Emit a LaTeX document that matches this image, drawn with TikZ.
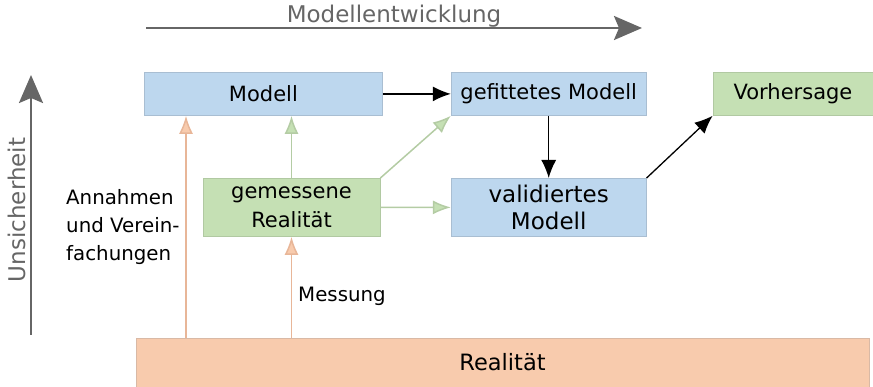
\documentclass[tikz,border=0pt]{standalone}
\usepackage{fontspec}
\setmainfont{DejaVu Sans}
\usetikzlibrary{arrows.meta,positioning}

\definecolor{modellblau}{HTML}{BDD7EE}
\definecolor{modellblaurand}{HTML}{A9BED2}
\definecolor{messgruen}{HTML}{C5E0B4}
\definecolor{messgruenrand}{HTML}{B1C9A2}
\definecolor{realorange}{HTML}{F8CBAD}
\definecolor{realorangerand}{HTML}{D9B9A5}
\definecolor{orangepfeil}{HTML}{E8B698}
\definecolor{gruenpfeil}{HTML}{B4CCA4}
\definecolor{achsengrau}{HTML}{666666}

\begin{document}
\begin{tikzpicture}[x=1pt,y=-1pt,>=Latex,
    box/.style={draw,line width=0.8pt,inner sep=0pt,align=center,font=\fontsize{21}{28.5}\selectfont},
    blaubox/.style={box,fill=modellblau,draw=modellblaurand},
    gruenbox/.style={box,fill=messgruen,draw=messgruenrand},
    schwarzpfeil/.style={->,line width=1.3pt,>={Latex[length=18pt,width=15pt]}},
    orangelinie/.style={->,line width=1.5pt,draw=orangepfeil,>={Latex[length=18pt,width=14pt,fill=realorange]}},
    gruenlinie/.style={->,line width=1.5pt,draw=gruenpfeil,>={Latex[length=18pt,width=14pt,fill=messgruen]}},
    achse/.style={->,line width=2.5pt,draw=achsengrau,>={Stealth[length=28pt,width=24pt,inset=5pt]}},
    achsentext/.style={text=achsengrau,inner sep=0pt,font=\fontsize{23}{27}\selectfont},
    beschriftung/.style={inner sep=0pt,align=left,font=\fontsize{19.8}{28}\selectfont}]

    \useasboundingbox (0,0) rectangle (873,387);

    % Kaesten
    \node[blaubox, anchor=north west, minimum width=238pt, minimum height=43pt] (modell) at (144,72) {Modell};
    \node[blaubox, minimum width=195pt, minimum height=43pt] (gefittet) [right=68pt of modell] {gefittetes Modell};
    \node[gruenbox, minimum width=160pt, minimum height=43pt] (vorhersage) [right=66pt of gefittet] {Vorhersage};
    \node[blaubox, minimum width=195pt, minimum height=58pt, font=\fontsize{23}{27.5}\selectfont] (validiert) [below=62.2pt of gefittet] {validiertes\\Modell};
    \node[gruenbox, minimum width=177pt, minimum height=58pt] (gemessen) at (291.5,207.4) {gemessene\\Realität};
    \node[box, fill=realorange, draw=realorangerand, minimum width=733pt, minimum height=49pt, font=\fontsize{22.5}{27}\selectfont] (realitaet) at (502.5,362.5) {Realität};

    % Achsen
    \coordinate (entw-start) at (146,28);
    \coordinate (entw-ende) at (642,28);
    \draw[achse] (entw-start) -- (entw-ende) node[achsentext, midway, anchor=base, yshift=5pt] (entwicklung) {Modellentwicklung};
    \coordinate (unsich-start) at (31,335);
    \coordinate (unsich-ende) at (31,75);
    \draw[achse] (unsich-start) -- (unsich-ende) node[achsentext, midway, rotate=90, anchor=base, xshift=-5pt, yshift=6pt] (unsicherheit) {Unsicherheit};

    % Beschriftungen
    \node[beschriftung, anchor=west] (annahmen) at (66,227) {Annahmen\\und Verein-\\fachungen};
    \node[beschriftung, anchor=base west] (messung) at (298,302) {Messung};

    % Pfeile
    \coordinate (annahme-oben) at ([xshift=42pt]modell.south west);
    \draw[orangelinie] (annahme-oben |- realitaet.north) -- (annahme-oben);
    \draw[orangelinie] (realitaet.north -| gemessen.south) -- (gemessen.south);
    \draw[gruenlinie] (gemessen.north) -- (modell.south -| gemessen.north);
    \draw[gruenlinie] (gemessen.north east) -- (gefittet.south west);
    \draw[gruenlinie] (gemessen.east) -- (validiert.west);
    \draw[schwarzpfeil] (modell.east) -- (gefittet.west);
    \draw[schwarzpfeil] (gefittet.south) -- (validiert.north);
    \draw[schwarzpfeil] (validiert.north east) -- (vorhersage.south west);

\end{tikzpicture}
\end{document}
